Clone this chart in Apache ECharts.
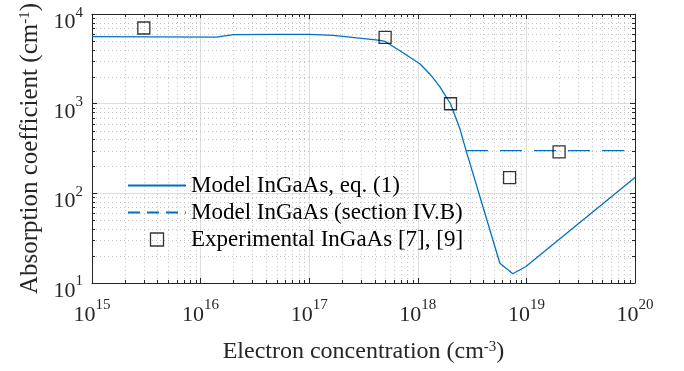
<!DOCTYPE html>
<html>
<head>
<meta charset="utf-8">
<script src="https://cdn.jsdelivr.net/npm/echarts@6/dist/echarts.min.js"></script>
<style>
html,body{margin:0;padding:0;background:#fff;}
#chart{width:684px;height:371px;}
</style>
</head>
<body>
<div id="chart"></div>
<script>
// ---- data ----
const modelX = [1e15, 1.4e16, 2e16, 5e16, 1e17, 1.66e17, 2.75e17, 4.5e17, 5e17, 6.9e17, 1.05e18, 1.29e18, 1.6e18, 2e18, 2.45e18, 2.78e18, 5.7e18, 7.5e18, 9.9e18, 1e20];
const modelY = [5600, 5550, 5900, 5950, 5950, 5800, 5420, 5100, 4950, 3870, 2770, 2150, 1540, 1000, 518, 302, 16.6, 12.7, 15.3, 150];
const sectionX = [2.78e18, 1e20];
const sectionY = [300, 300];
const expX = [3e15, 5e17, 2e18, 7e18, 2e19];
const expY = [7000, 5500, 1000, 150, 290];
const seriesNames = ['Model InGaAs, eq. (1)', 'Model InGaAs (section IV.B)', 'Experimental InGaAs [7], [9]'];
const xRange = [1e15, 1e20];
const yRange = [1e1, 1e4];

// ---- helpers ----
const FONT = 'Liberation Serif';
const TXT = '#262626';
const BLUE = '#0072BD';
function minorVals(lo, hi) {
  const out = [];
  for (let d = Math.round(Math.log10(lo)); d < Math.round(Math.log10(hi)); d++) {
    for (let m = 2; m <= 9; m++) out.push(m * Math.pow(10, d));
  }
  return out;
}
const xMinor = minorVals(xRange[0], xRange[1]);
const yMinor = minorVals(yRange[0], yRange[1]);
const zip = (a, b) => a.map((v, i) => [v, b[i]]);
const crisp = v => Math.round(v) + 0.5;

const powRich = {
  b: {fontSize: 22, fontFamily: FONT, color: TXT, verticalAlign: 'bottom', lineHeight: 20},
  s: {fontSize: 15, fontFamily: FONT, color: TXT, verticalAlign: 'top', lineHeight: 28}
};
const powFmt = v => '{b|10}{s|' + Math.round(Math.log10(v)) + '}';

function minorX(params, api) {
  const cs = params.coordSys;
  const px = crisp(api.coord([api.value(0), yRange[0]])[0]);
  const top = cs.y, bot = cs.y + cs.height;
  return {type: 'group', children: [
    {type: 'line', shape: {x1: px, y1: top, x2: px, y2: bot}, style: {stroke: '#c4c4c4', lineDash: [1, 3], lineWidth: 1}},
    {type: 'line', shape: {x1: px, y1: bot, x2: px, y2: bot - 3}, style: {stroke: TXT, lineWidth: 1}},
    {type: 'line', shape: {x1: px, y1: top, x2: px, y2: top + 3}, style: {stroke: TXT, lineWidth: 1}}
  ]};
}
function minorY(params, api) {
  const cs = params.coordSys;
  const py = crisp(api.coord([xRange[0], api.value(1)])[1]);
  const l = cs.x, r = cs.x + cs.width;
  return {type: 'group', children: [
    {type: 'line', shape: {x1: l, y1: py, x2: r, y2: py}, style: {stroke: '#c4c4c4', lineDash: [1, 3], lineWidth: 1}},
    {type: 'line', shape: {x1: l, y1: py, x2: l + 3, y2: py}, style: {stroke: TXT, lineWidth: 1}},
    {type: 'line', shape: {x1: r, y1: py, x2: r - 3, y2: py}, style: {stroke: TXT, lineWidth: 1}}
  ]};
}

const baseAxis = {
  type: 'log', logBase: 10,
  axisLine: {show: true, lineStyle: {color: TXT, width: 1}},
  axisTick: {show: true, inside: true, length: 5, lineStyle: {color: TXT}},
  splitLine: {show: false},
  axisLabel: {show: false}
};
const supRich = {s: {fontSize: 15, fontFamily: FONT, color: TXT, verticalAlign: 'top', lineHeight: 14}};
const hiddenSym = {opacity: 0, color: 'rgba(0,0,0,0)', borderColor: 'rgba(0,0,0,0)'};

const chart = echarts.init(document.getElementById('chart'));
chart.setOption({
  animation: false,
  backgroundColor: '#fff',
  grid: {left: 92, right: 49, top: 9, bottom: 88},
  legend: {
    orient: 'vertical', left: 122, top: 169,
    itemWidth: 58, itemHeight: 13, itemGap: 4,
    textStyle: {fontSize: 23, fontFamily: FONT, color: '#000'},
    data: [
      {name: seriesNames[0], itemStyle: hiddenSym},
      {name: seriesNames[1], itemStyle: hiddenSym, lineStyle: {type: [12, 7]}},
      {name: seriesNames[2], icon: 'path://M0,0L10,0L10,10L0,10Z', itemStyle: {color: 'rgba(0,0,0,0)', borderColor: '#000', borderWidth: 1.3}}
    ]
  },
  xAxis: [
    Object.assign({}, baseAxis, {
      min: xRange[0], max: xRange[1], position: 'bottom',
      splitLine: {show: true, lineStyle: {color: '#dedede', width: 1}},
      axisLabel: {show: true, margin: 15, formatter: powFmt, rich: powRich},
      name: 'Electron concentration (cm{s|-3})', nameLocation: 'middle', nameGap: 57,
      nameTextStyle: {fontSize: 24, fontFamily: FONT, color: TXT, rich: supRich}
    }),
    Object.assign({}, baseAxis, {min: xRange[0], max: xRange[1], position: 'top'})
  ],
  yAxis: [
    Object.assign({}, baseAxis, {
      min: yRange[0], max: yRange[1], position: 'left',
      splitLine: {show: true, lineStyle: {color: '#dedede', width: 1}},
      axisLabel: {show: true, margin: 9, padding: [10, 0, 0, 0], formatter: powFmt, rich: powRich},
      name: 'Absorption coefficient (cm{s|-1})', nameLocation: 'middle', nameGap: 48, nameRotate: 90,
      nameTextStyle: {fontSize: 25, fontFamily: FONT, color: TXT, rich: supRich}
    }),
    Object.assign({}, baseAxis, {min: yRange[0], max: yRange[1], position: 'right'})
  ],
  series: [
    {type: 'custom', name: 'xminor', silent: true, z: 1, renderItem: minorX, data: xMinor.map(v => [v, yRange[0]]), clip: false},
    {type: 'custom', name: 'yminor', silent: true, z: 1, renderItem: minorY, data: yMinor.map(v => [xRange[0], v]), clip: false},
    {type: 'line', name: seriesNames[0], data: zip(modelX, modelY), symbol: 'none', z: 3,
     lineStyle: {color: BLUE, width: 1.3}, itemStyle: {color: BLUE}},
    {type: 'line', name: seriesNames[1], data: zip(sectionX, sectionY), symbol: 'none', z: 3,
     lineStyle: {color: BLUE, width: 1.3, type: [22, 12]}, itemStyle: {color: BLUE}},
    {type: 'scatter', name: seriesNames[2], data: zip(expX, expY), symbol: 'rect', symbolSize: 12, z: 4,
     itemStyle: {color: 'rgba(0,0,0,0)', borderColor: '#000', borderWidth: 1.3}}
  ]
});
</script>
</body>
</html>
